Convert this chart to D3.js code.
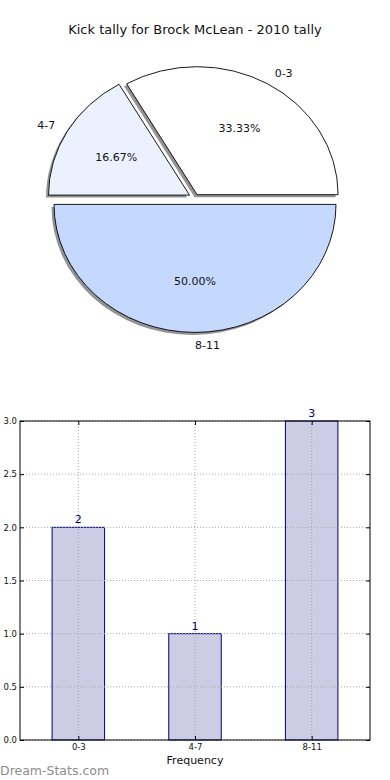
<!DOCTYPE html>
<html><head><meta charset="utf-8">
<script src="https://cdn.jsdelivr.net/npm/d3@7/dist/d3.min.js"></script>
<style>body{margin:0;background:#fff}svg{display:block;font-family:"DejaVu Sans",sans-serif}</style>
</head><body><svg id="c" width="390" height="780"></svg>
<script>
const title = "Kick tally for Brock McLean - 2010 tally";
const categories = ["0-3", "4-7", "8-11"];
const counts = [2, 1, 3];
const pieColors = ["#ffffff", "#ebf1ff", "#c5d9ff"];
const explode = [0.03, 0.045, 0.05];
const yTicks = [0.0, 0.5, 1.0, 1.5, 2.0, 2.5, 3.0];
const xLabel = "Frequency";
const watermark = "Dream-Stats.com";

const svg = d3.select("#c");
svg.append("text").attr("x",195).attr("y",34).attr("text-anchor","middle")
  .attr("font-size",13).attr("fill","#111").text(title);

// ---- Pie ----
const cx = 195, cy = 198, rx = 141, ry = 128;
const total = d3.sum(counts);
const pie = d3.pie().sort(null).startAngle(Math.PI/2).endAngle(Math.PI/2 - 2*Math.PI);
const arcs = pie(counts);
const R = 100;
const arc = d3.arc().innerRadius(0).outerRadius(R);
const gPie = svg.append("g");
function center(d,i){
  const mid = (d.startAngle + d.endAngle)/2;
  const ux = Math.sin(mid), uy = -Math.cos(mid);
  return {x: cx + explode[i]*ux*rx, y: cy + explode[i]*uy*ry, ux, uy};
}
arcs.forEach((d,i)=>{
  const c = center(d,i);
  gPie.append("path").attr("d", arc(d))
    .attr("transform",`translate(${c.x-2.5},${c.y+2.5}) scale(${rx/R},${ry/R})`)
    .attr("fill","#808080").attr("opacity",0.85);
});
arcs.forEach((d,i)=>{
  const c = center(d,i);
  gPie.append("path").attr("d", arc(d))
    .attr("transform",`translate(${c.x},${c.y}) scale(${rx/R},${ry/R})`)
    .attr("fill",pieColors[i]).attr("stroke","#000").attr("stroke-width",0.9)
    .attr("vector-effect","non-scaling-stroke");
});
arcs.forEach((d,i)=>{
  const c = center(d,i);
  const lx = c.x + 1.1*c.ux*rx, ly = c.y + 1.1*c.uy*ry;
  gPie.append("text").attr("x",lx).attr("y",ly).attr("dy","0.35em")
    .attr("text-anchor", c.ux < -1e-6 ? "end" : "start")
    .attr("font-size",11).attr("fill","#111").text(categories[i]);
  const px = c.x + 0.6*c.ux*rx, py = c.y + 0.6*c.uy*ry;
  gPie.append("text").attr("x",px).attr("y",py).attr("dy","0.35em")
    .attr("text-anchor","middle").attr("font-size",11).attr("fill","#111")
    .text((counts[i]/total*100).toFixed(2)+"%");
});

// ---- Bar chart ----
const L = 20, Rr = 370, T = 421, B = 740;
const x = d3.scaleLinear().domain([-0.5, 2.5]).range([L, Rr]);
const y = d3.scaleLinear().domain([0, 3]).range([B, T]);
const g = svg.append("g");
const bw = 0.45;
g.selectAll(".bar").data(counts).join("rect")
  .attr("x",(d,i)=>x(i - bw/2)).attr("width",x(bw)-x(0))
  .attr("y",d=>y(d)).attr("height",d=>y(0)-y(d))
  .attr("fill","#cccce5").attr("stroke","#000080").attr("stroke-width",1);
g.selectAll(".gx").data(categories).join("line")
  .attr("x1",(d,i)=>x(i)).attr("x2",(d,i)=>x(i)).attr("y1",T).attr("y2",B)
  .attr("stroke","#a8a8a8").attr("stroke-width",1).attr("stroke-dasharray","1,2");
g.selectAll(".gy").data(yTicks).join("line")
  .attr("x1",L).attr("x2",Rr).attr("y1",d=>y(d)).attr("y2",d=>y(d))
  .attr("stroke","#a8a8a8").attr("stroke-width",1).attr("stroke-dasharray","1,2");
g.selectAll(".val").data(counts).join("text")
  .attr("x",(d,i)=>x(i)).attr("y",d=>y(d)-4).attr("text-anchor","middle")
  .attr("font-size",11).attr("fill","#000080").text(d=>d);
g.append("rect").attr("x",L).attr("y",T).attr("width",Rr-L).attr("height",B-T)
  .attr("fill","none").attr("stroke","#000").attr("stroke-width",1);
const yAx = g.append("g").attr("transform",`translate(${L},0)`)
  .call(d3.axisLeft(y).tickValues(yTicks).tickFormat(d3.format(".1f")).tickSize(-4).tickPadding(3));
const yAxR = g.append("g").attr("transform",`translate(${Rr},0)`)
  .call(d3.axisRight(y).tickValues(yTicks).tickFormat("").tickSize(-4));
const xAx = g.append("g").attr("transform",`translate(0,${B})`)
  .call(d3.axisBottom(x).tickValues([0,1,2]).tickFormat((d)=>categories[d]).tickSize(-4).tickPadding(4));
const xAxT = g.append("g").attr("transform",`translate(0,${T})`)
  .call(d3.axisTop(x).tickValues([0,1,2]).tickFormat("").tickSize(-4));
[yAx,yAxR,xAx,xAxT].forEach(a=>{
  a.select(".domain").remove();
  a.selectAll("text").attr("font-size",8.5).attr("font-family","DejaVu Sans").attr("fill","#111");
  a.selectAll("line").attr("stroke","#000");
});
svg.append("text").attr("x",x(1)).attr("y",764).attr("text-anchor","middle")
  .attr("font-size",11).attr("fill","#111").text(xLabel);
svg.append("text").attr("x",0).attr("y",775).attr("font-size",12.5)
  .attr("fill","#8c8c8c").text(watermark);
</script></body></html>
